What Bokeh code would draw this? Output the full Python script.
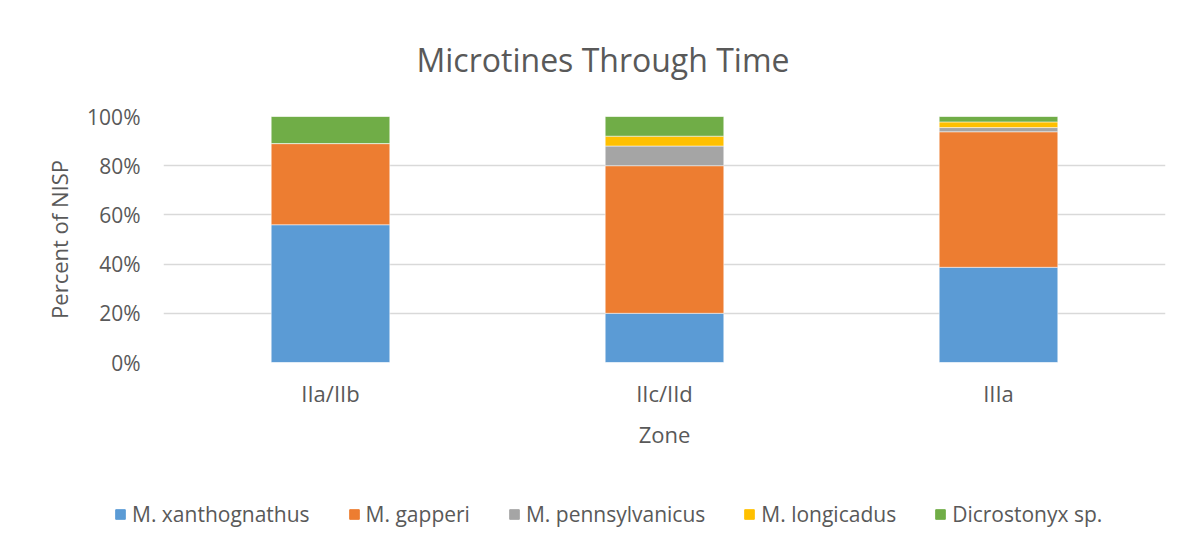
from bokeh.plotting import figure
from bokeh.layouts import column
from bokeh.models import (FactorRange, Range1d, NumeralTickFormatter, FixedTicker,
                          Legend, LegendItem, Title)
from bokeh.embed import file_html
from bokeh.resources import INLINE

zones = ["IIa/IIb", "IIc/IId", "IIIa"]
species = ["M. xanthognathus", "M. gapperi", "M. pennsylvanicus", "M. longicadus", "Dicrostonyx sp."]
xanthognathus = [0.56, 0.20, 0.387]
gapperi = [0.33, 0.60, 0.551]
pennsylvanicus = [0.0, 0.08, 0.017]
longicadus = [0.0, 0.04, 0.023]
dicrostonyx = [0.11, 0.08, 0.022]
colors = ["#5B9BD5", "#ED7D31", "#A5A5A5", "#FFC000", "#70AD47"]
y_ticks = [0, 0.2, 0.4, 0.6, 0.8, 1.0]

FONT = "Open Sans"
TXT = "#595959"

data = {"zone": zones, "s0": xanthognathus, "s1": gapperi, "s2": pennsylvanicus,
        "s3": longicadus, "s4": dicrostonyx}
keys = ["s0", "s1", "s2", "s3", "s4"]

W = 1186
p = figure(x_range=FactorRange(*zones, range_padding=0), y_range=Range1d(0, 1.0),
           width=W, height=480, output_backend="svg", toolbar_location=None,
           min_border_left=163, min_border_right=21, min_border_top=116, min_border_bottom=118)
p.outline_line_color = None
p.background_fill_color = "white"
p.border_fill_color = "white"
p.frame_align = False

p.vbar_stack(keys, x="zone", width=0.355, color=colors, source=data,
             line_color="white", line_width=0.5)

p.xgrid.grid_line_color = None
p.ygrid.grid_line_color = "#D9D9D9"
p.ygrid.grid_line_width = 1.3
p.yaxis.ticker = FixedTicker(ticks=y_ticks)
p.yaxis.formatter = NumeralTickFormatter(format="0%")

for ax in (p.xaxis[0], p.yaxis[0]):
    ax.axis_line_color = None
    ax.major_tick_line_color = None
    ax.minor_tick_line_color = None
    ax.major_tick_out = 0
    ax.major_tick_in = 0
    ax.major_label_text_font = FONT
    ax.major_label_text_color = TXT
    ax.axis_label_text_font = FONT
    ax.axis_label_text_font_size = "22px"
    ax.axis_label_text_font_style = "normal"
    ax.axis_label_text_color = TXT

p.yaxis.major_label_text_font_size = "21px"
p.xaxis.major_label_text_font_size = "22px"
p.yaxis.axis_label = "Percent of NISP"
p.yaxis.major_label_standoff = 23
p.yaxis.axis_label_standoff = 10
p.xaxis.axis_label = "Zone"
p.xaxis.major_label_standoff = 15
p.xaxis.axis_label_standoff = 8

p.title = Title(text="Microtines Through Time", text_font=FONT, text_font_size="32px",
                text_color=TXT, text_font_style="normal", align="left", offset=253,
                vertical_align="middle", standoff=70)

# legend strip (its own small figure, so the legend is not clipped)
lg = figure(x_range=FactorRange(*zones), y_range=Range1d(5, 6),
            width=W, height=75, output_backend="svg", toolbar_location=None,
            x_axis_location=None, y_axis_location=None, min_border=0)
lg.outline_line_color = None
lg.grid.grid_line_color = None
lg.frame_align = False
lrs = lg.vbar_stack(keys, x="zone", width=0.355, color=colors, source=data)

items = [LegendItem(label=s, renderers=[r]) for s, r in zip(species, lrs)]
legend = Legend(items=items, orientation="horizontal", location=(114, 27),
                label_text_font=FONT, label_text_font_size="21px", label_text_color=TXT,
                glyph_width=12, glyph_height=12, label_standoff=6, spacing=38,
                border_line_color=None, background_fill_alpha=0, padding=0, margin=0)
lg.add_layout(legend)

layout = column(p, lg, spacing=0)
open("out.html", "w").write(file_html(layout, INLINE))
